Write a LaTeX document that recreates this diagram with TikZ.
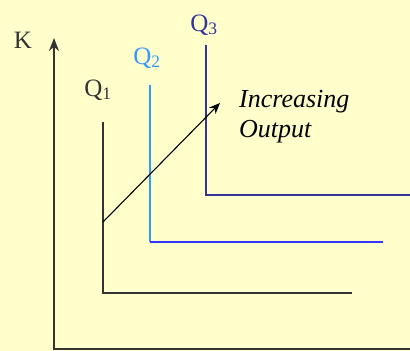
\documentclass[tikz,border=0pt]{standalone}
\usepackage{fontspec}
\setmainfont{Liberation Serif}
\usepackage{xcolor}
\usetikzlibrary{arrows.meta,positioning}
\definecolor{isoBg}{RGB}{255,255,204}
\definecolor{isoDark}{RGB}{51,51,51}
\definecolor{isoSky}{RGB}{51,153,255}
\definecolor{isoBlue}{RGB}{51,51,255}
\definecolor{isoNavy}{RGB}{51,51,153}

\begin{document}
\begin{tikzpicture}[
  x=1pt, y=1pt,
  font=\fontsize{25}{30}\selectfont,
  %% Axis line with filled tip
  axis/.style={isoDark, line width=2.2pt},
  %% Isoquant segment (1-arg: colour)
  iso/.style={#1, line width=2.2pt},
  %% Label above an isoquant
  qlabel/.style={inner sep=0pt, text=#1},
  arr/.style={-{Stealth[length=11pt,width=9pt]}, line width=1.1pt, black}
]

%% ---- Background / bounding box ----
\fill[isoBg] (0,0) rectangle (410,351);
\useasboundingbox (0,0) rectangle (410,351);

%% ---- Axes ----
\coordinate (origin) at (54,2);
\coordinate (ktop)   at (54,313);
\coordinate (lend)   at (412,2);
\draw[axis, {Stealth[length=13pt,width=10pt]}-] (ktop) -- (origin) -- (lend);
\node[qlabel=isoDark] (klab) at (23,311) {K};

%% ---- Isoquants ----
\coordinate (q1top) at (103,229);
\coordinate (q1cor) at (103,58);
\coordinate (q1end) at (352,58);
\coordinate (q2top) at (150,266);
\coordinate (q2cor) at (150,109);
\coordinate (q2end) at (383,109);
\coordinate (q3top) at (206,306);
\coordinate (q3cor) at (206,156);
\coordinate (q3end) at (412,156);

\draw[iso=isoDark] (q1top) -- (q1cor) -- (q1end);
\draw[iso=isoSky]  (q2top) -- (q2cor);
\draw[iso=isoBlue] (q2cor) -- (q2end);
\draw[iso=isoNavy] (q3top) -- (q3cor) -- (q3end);

\node[qlabel=isoDark] (q1lab) at (98,261)  {Q\textsubscript{1}};
\node[qlabel=isoSky]  (q2lab) at (147,293) {Q\textsubscript{2}};
\node[qlabel=isoNavy] (q3lab) at (204,326) {Q\textsubscript{3}};

%% ---- Output direction ----
\coordinate (arrfrom) at (103,129);
\coordinate (arrto)   at (220,248);
\draw[arr] (arrfrom) -- (arrto);
\node[anchor=west, align=left, inner sep=0pt, font=\fontsize{26}{30}\selectfont\itshape]
  (outlab) at (239,234) {Increasing\\Output};

\end{tikzpicture}
\end{document}
